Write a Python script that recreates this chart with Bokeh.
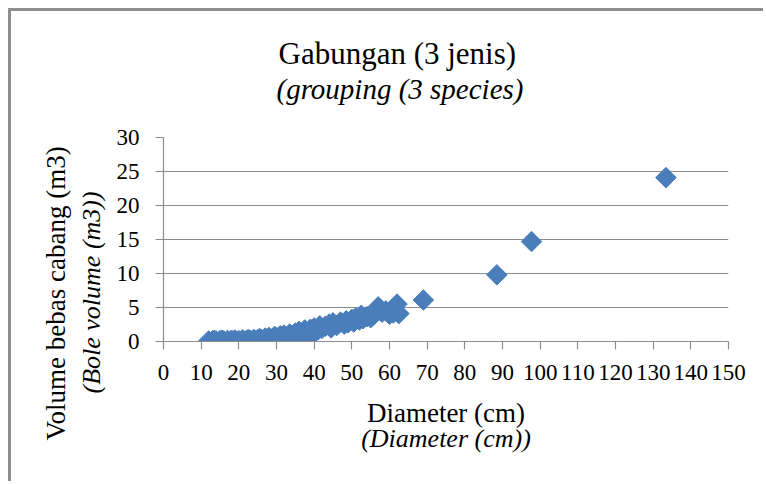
import math
from bokeh.plotting import figure
from bokeh.models import Title, SingleIntervalTicker, Range1d, ColumnDataSource
from bokeh.embed import file_html
from bokeh.resources import INLINE

# ---- data ----
diameter_cm = [12, 13, 13.5, 14, 15, 15.5, 16, 17, 18, 18.5, 19, 20, 21, 22, 22.5, 23,
               24, 25, 25.5, 26, 27, 27.5, 28, 28.5, 29, 29.5, 30, 30.5, 31, 31.5, 32, 32.5,
               33, 33.5, 34, 34.5, 35, 35.5, 36, 36.5, 37, 37.5, 38, 39, 39.5, 40, 41, 41.5,
               42, 43, 44, 44.5, 45, 46, 47, 48, 48.5, 49, 50, 50.5, 51, 52, 52.5, 53,
               54, 55, 56, 56.5, 57, 58, 59, 60, 61, 62, 62.5, 69, 88.5, 97.7, 133.4]
bole_volume_m3 = [0.08, 0.1, 0.18, 0.06, 0.12, 0.2, 0.08, 0.15, 0.18, 0.1, 0.22, 0.12, 0.25, 0.15, 0.3, 0.2,
                  0.3, 0.25, 0.45, 0.3, 0.5, 0.35, 0.6, 0.2, 0.45, 0.75, 0.55, 0.3, 0.85, 0.6, 0.95, 0.4,
                  0.75, 1.1, 0.85, 0.5, 1.25, 0.9, 1.5, 0.7, 1.2, 1.7, 1.35, 1.8, 1.0, 2.0, 1.7, 2.3,
                  1.9, 2.25, 2.55, 2.0, 2.75, 2.35, 2.85, 2.55, 3.05, 2.75, 3.25, 2.85, 3.45, 3.15, 3.85, 3.35,
                  3.65, 3.5, 4.0, 4.6, 5.1, 4.3, 4.5, 4.0, 4.2, 5.5, 4.1, 6.1, 9.8, 14.7, 24.1]
x_ticks_step = 10
y_ticks_step = 5
x_lo, x_hi = 0, 150
y_lo, y_hi = 0, 30

title_main = "Gabungan (3 jenis)"
title_sub = "(grouping (3 species)"
x_title = "Diameter (cm)"
x_title_en = "(Diameter (cm))"
y_title = "Volume bebas cabang (m3)"
y_title_en = "(Bole volume (m3))"

# ---- layout constants (page pixels) ----
FL, FR, FT, FB = 163, 728, 137, 341     # plot frame edges on the page
OX, OY = 11, 11                          # canvas origin on the page (8px margin + 3px border)
W, H = 755, 473
BLUE = "#4A7EBB"
GRID = "#8C8C8C"
FONT = "Liberation Serif"

p = figure(width=W, height=H, output_backend="svg", toolbar_location=None,
           x_range=Range1d(x_lo, x_hi), y_range=Range1d(y_lo, y_hi),
           min_border_left=FL - OX, min_border_top=FT - OY,
           min_border_right=W - (FR - OX), min_border_bottom=H - (FB - OY))
p.styles = {"border-left": "3px solid #8f8f8f", "border-top": "3px solid #8f8f8f",
            "margin-left": "8px", "margin-top": "8px"}
p.title.visible = False
p.outline_line_color = None
p.background_fill_color = "white"
p.border_fill_color = "white"

src = ColumnDataSource(dict(x=diameter_cm, y=bole_volume_m3))
p.scatter("x", "y", source=src, marker="square", size=14.5, angle=math.pi / 4,
          fill_color=BLUE, line_color=BLUE, line_width=1)

p.xgrid.visible = False
p.ygrid.grid_line_color = GRID
p.ygrid.grid_line_width = 1.2

p.xaxis.ticker = SingleIntervalTicker(interval=x_ticks_step)
p.yaxis.ticker = SingleIntervalTicker(interval=y_ticks_step)
for ax in (p.xaxis[0], p.yaxis[0]):
    ax.axis_line_color = GRID
    ax.axis_line_width = 1.2
    ax.major_tick_line_color = GRID
    ax.major_tick_line_width = 1.2
    ax.major_tick_in = 0
    ax.major_tick_out = 8
    ax.minor_tick_line_color = None
    ax.major_label_text_font = FONT
    ax.major_label_text_font_size = "23px"
    ax.major_label_text_color = "black"
p.yaxis.major_label_standoff = 16
p.xaxis.major_label_standoff = 15

def ttl(text, side, size, italic=False, align="center", offset=0, standoff=0, valign="bottom"):
    t = Title(text=text, align=align, offset=offset, standoff=standoff, vertical_align=valign)
    t.text_font = FONT
    t.text_font_size = size
    t.text_font_style = "italic" if italic else "normal"
    t.text_color = "black"
    p.add_layout(t, side)

# top titles (first added sits nearest the frame); a blank spacer keeps the gap
ttl(" ", "above", "1px", standoff=30)
ttl(title_sub, "above", "29px", italic=True, align="left", offset=113, standoff=0)
ttl(title_main, "above", "31px", align="left", offset=115, standoff=0)
# x-axis titles
ttl(x_title, "below", "27px", align="center", offset=0, standoff=26)
ttl(x_title_en, "below", "26px", italic=True, align="center", offset=0, standoff=-34, valign="top")
# y-axis titles (rotated, shifted down like the reference)
ttl(y_title_en, "left", "26px", italic=True, align="left", offset=-52, standoff=16)
ttl(y_title, "left", "27px", align="left", offset=-99, standoff=-9)

open("out.html", "w").write(file_html(p, INLINE))
